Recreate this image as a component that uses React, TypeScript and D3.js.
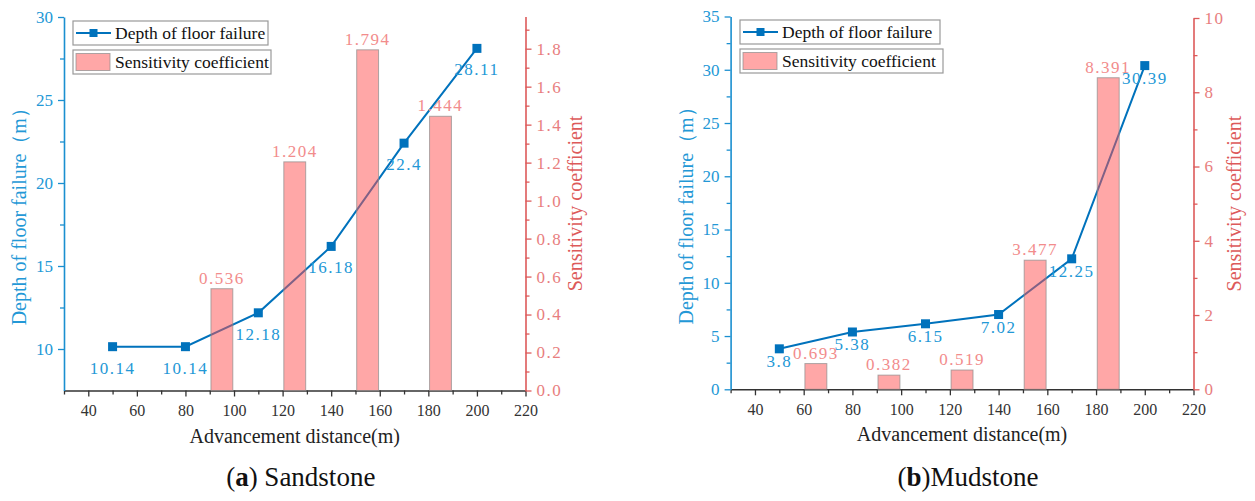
import React, { useEffect, useRef } from "react";
import * as d3 from "d3";

// advancement distance of the line points, same for both panels
const advance = [50, 80, 110, 140, 170, 200];
const xTicks = [40, 60, 80, 100, 120, 140, 160, 180, 200, 220];

// (a) sandstone
const sandDepth = [10.14, 10.14, 12.18, 16.18, 22.4, 28.11];
const sandBarX = [95, 125, 155, 185];
const sandSens = [0.536, 1.204, 1.794, 1.444];
const sandDepthTicks = [10, 15, 20, 25, 30];
const sandSensTicks = [0, 0.2, 0.4, 0.6, 0.8, 1.0, 1.2, 1.4, 1.6, 1.8];

// (b) mudstone
const mudDepth = [3.8, 5.38, 6.15, 7.02, 12.25, 30.39];
const mudBarX = [65, 95, 125, 155, 185];
const mudSens = [0.693, 0.382, 0.519, 3.477, 8.391];
const mudDepthTicks = [0, 5, 10, 15, 20, 25, 30, 35];
const mudSensTicks = [0, 2, 4, 6, 8, 10];

const BLUE_LINE = "#0072bc";
const BLUE_TEXT = "#2398d6";
const BLUE_AXIS = "#1a8fd0";
const RED_AXIS = "#dd5a5a";
const RED_TEXT = "#e87e7e";
const FONT = "'Liberation Serif', 'Times New Roman', serif";

type PanelProps = {
  x0: number;
  x1: number;
  bottom: number;
  depth: number[];
  barX: number[];
  sens: number[];
  depthDomain: [number, number];
  depthTop: number;
  depthTicks: number[];
  depthMinorStep: number;
  sensDomain: [number, number];
  sensTop: number;
  sensTicks: number[];
  sensMinorStep: number;
  sensFmt: (v: number) => string;
  labelDy: number;
  legend: { x: number; y: number; w1: number; w2: number };
  leftTitleX: number;
  rightTitleX: number;
  caption: [string, string];
};

const Panel: React.FC<PanelProps> = (p) => {
  const ref = useRef<SVGGElement | null>(null);

  useEffect(() => {
    const g = d3.select(ref.current!);
    g.selectAll("*").remove();

    const x = d3.scaleLinear().domain([30, 220]).range([p.x0, p.x1]);
    const yL = d3.scaleLinear().domain(p.depthDomain).range([p.bottom, p.depthTop]);
    const yR = d3.scaleLinear().domain(p.sensDomain).range([p.bottom, p.sensTop]);

    // x axis
    const xMinor = d3.range(30, 221, 10).filter((v) => !xTicks.includes(v));
    g.append("g")
      .attr("transform", `translate(0,${p.bottom})`)
      .call(d3.axisBottom(x).tickValues(xMinor).tickSize(4).tickFormat(() => ""))
      .call((a) => a.select(".domain").remove())
      .call((a) => a.selectAll(".tick line").attr("stroke", "#333").attr("stroke-width", 1.3));
    g.append("g")
      .attr("transform", `translate(0,${p.bottom})`)
      .call(d3.axisBottom(x).tickValues(xTicks).tickSize(6).tickSizeOuter(0).tickPadding(8))
      .call((a) => a.select(".domain").attr("stroke", "#333").attr("stroke-width", 1.6))
      .call((a) => a.selectAll(".tick line").attr("stroke", "#333").attr("stroke-width", 1.3))
      .call((a) =>
        a.selectAll(".tick text").attr("fill", "#333").attr("font-size", 16).attr("font-family", FONT)
      );

    // left axis
    const [dl0, dl1] = p.depthDomain;
    const lMinor = d3
      .range(Math.ceil(dl0 / p.depthMinorStep) * p.depthMinorStep, dl1 + 0.001, p.depthMinorStep)
      .filter((v) => !p.depthTicks.some((t) => Math.abs(t - v) < 1e-6) && v > dl0 + 0.01);
    g.append("g")
      .attr("transform", `translate(${p.x0},0)`)
      .call(d3.axisLeft(yL).tickValues(lMinor).tickSize(4).tickFormat(() => ""))
      .call((a) => a.select(".domain").remove())
      .call((a) => a.selectAll(".tick line").attr("stroke", BLUE_AXIS).attr("stroke-width", 1.3));
    g.append("g")
      .attr("transform", `translate(${p.x0},0)`)
      .call(d3.axisLeft(yL).tickValues(p.depthTicks).tickSize(6).tickSizeOuter(0).tickPadding(5))
      .call((a) => a.select(".domain").attr("stroke", BLUE_AXIS).attr("stroke-width", 1.6))
      .call((a) => a.selectAll(".tick line").attr("stroke", BLUE_AXIS).attr("stroke-width", 1.3))
      .call((a) =>
        a.selectAll(".tick text").attr("fill", BLUE_TEXT).attr("font-size", 17).attr("font-family", FONT)
      );

    // right axis
    const [dr0, dr1] = p.sensDomain;
    const rMinor = d3
      .range(dr0 + p.sensMinorStep, dr1 + 0.001, p.sensMinorStep)
      .filter((v) => !p.sensTicks.some((t) => Math.abs(t - v) < 1e-6));
    g.append("g")
      .attr("transform", `translate(${p.x1},0)`)
      .call(d3.axisRight(yR).tickValues(rMinor).tickSize(4).tickFormat(() => ""))
      .call((a) => a.select(".domain").remove())
      .call((a) => a.selectAll(".tick line").attr("stroke", RED_AXIS).attr("stroke-width", 1.3));
    g.append("g")
      .attr("transform", `translate(${p.x1},0)`)
      .call(
        d3
          .axisRight(yR)
          .tickValues(p.sensTicks)
          .tickSize(6)
          .tickSizeOuter(0)
          .tickPadding(5)
          .tickFormat((d) => p.sensFmt(d as number))
      )
      .call((a) => a.select(".domain").attr("stroke", RED_AXIS).attr("stroke-width", 1.6))
      .call((a) => a.selectAll(".tick line").attr("stroke", RED_AXIS).attr("stroke-width", 1.3))
      .call((a) =>
        a
          .selectAll(".tick text")
          .attr("fill", RED_TEXT)
          .attr("font-size", 17)
          .attr("font-family", FONT)
          .attr("letter-spacing", 1.5)
      );

    // depth line
    const pts = advance.map((a, i) => [a, p.depth[i]] as [number, number]);
    g.append("path")
      .datum(pts)
      .attr("fill", "none")
      .attr("stroke", BLUE_LINE)
      .attr("stroke-width", 2)
      .attr(
        "d",
        d3
          .line<[number, number]>()
          .x((d) => x(d[0]))
          .y((d) => yL(d[1]))
      );
    g.selectAll(".mk")
      .data(pts)
      .enter()
      .append("rect")
      .attr("x", (d) => x(d[0]) - 4.5)
      .attr("y", (d) => yL(d[1]) - 4.5)
      .attr("width", 9)
      .attr("height", 9)
      .attr("fill", BLUE_LINE);
    g.selectAll(".dl")
      .data(pts)
      .enter()
      .append("text")
      .attr("x", (d) => x(d[0]))
      .attr("y", (d) => yL(d[1]) + p.labelDy)
      .attr("text-anchor", "middle")
      .attr("font-size", 17)
      .attr("font-family", FONT)
      .attr("letter-spacing", 1.5)
      .attr("fill", BLUE_TEXT)
      .text((d) => String(d[1]));

    // sensitivity bars (translucent, over the line)
    const bw = x(39) - x(30);
    const bars = p.barX.map((b, i) => [b, p.sens[i]] as [number, number]);
    g.selectAll(".bar")
      .data(bars)
      .enter()
      .append("rect")
      .attr("x", (d) => x(d[0]) - bw / 2)
      .attr("y", (d) => yR(d[1]))
      .attr("width", bw)
      .attr("height", (d) => p.bottom - yR(d[1]))
      .attr("fill", "rgba(255,80,80,0.5)")
      .attr("stroke", "rgba(140,140,140,0.7)")
      .attr("stroke-width", 1);
    g.selectAll(".bl")
      .data(bars)
      .enter()
      .append("text")
      .attr("x", (d) => x(d[0]))
      .attr("y", (d) => yR(d[1]) - 5)
      .attr("text-anchor", "middle")
      .attr("font-size", 17)
      .attr("font-family", FONT)
      .attr("letter-spacing", 1.5)
      .attr("fill", "#f28c8c")
      .text((d) => d[1].toFixed(3));

    // axis titles
    const midL = (p.bottom + p.depthTop) / 2 + 8;
    g.append("text")
      .attr("transform", `translate(${p.leftTitleX},${midL}) rotate(-90)`)
      .attr("text-anchor", "middle")
      .attr("font-size", 20)
      .attr("font-family", FONT)
      .attr("fill", BLUE_TEXT)
      .text("Depth of floor failure（m）");
    g.append("text")
      .attr("transform", `translate(${p.rightTitleX},${(p.bottom + p.sensTop) / 2}) rotate(-90)`)
      .attr("text-anchor", "middle")
      .attr("font-size", 20)
      .attr("font-family", FONT)
      .attr("fill", RED_AXIS)
      .text("Sensitivity coefficient");
    g.append("text")
      .attr("x", (p.x0 + p.x1) / 2)
      .attr("y", p.bottom + 52)
      .attr("text-anchor", "middle")
      .attr("font-size", 20)
      .attr("font-family", FONT)
      .attr("fill", "#222")
      .text("Advancement distance(m)");

    // legend
    const lg = g.append("g").attr("transform", `translate(${p.legend.x},${p.legend.y})`);
    lg.append("rect")
      .attr("width", p.legend.w1)
      .attr("height", 24)
      .attr("fill", "#fff")
      .attr("stroke", "#999")
      .attr("stroke-width", 1.2);
    lg.append("line")
      .attr("x1", 3)
      .attr("x2", 38)
      .attr("y1", 12)
      .attr("y2", 12)
      .attr("stroke", BLUE_LINE)
      .attr("stroke-width", 2);
    lg.append("rect").attr("x", 16.5).attr("y", 8).attr("width", 8).attr("height", 8).attr("fill", BLUE_LINE);
    lg.append("text")
      .attr("x", 42)
      .attr("y", 18)
      .attr("font-size", 17.5)
      .attr("font-family", FONT)
      .attr("fill", "#111")
      .text("Depth of floor failure");
    lg.append("rect")
      .attr("y", 29)
      .attr("width", p.legend.w2)
      .attr("height", 24)
      .attr("fill", "#fff")
      .attr("stroke", "#999")
      .attr("stroke-width", 1.2);
    lg.append("rect")
      .attr("x", 3)
      .attr("y", 32.5)
      .attr("width", 34)
      .attr("height", 17)
      .attr("fill", "rgba(255,80,80,0.5)")
      .attr("stroke", "rgba(140,140,140,0.7)");
    lg.append("text")
      .attr("x", 42)
      .attr("y", 47)
      .attr("font-size", 17.5)
      .attr("font-family", FONT)
      .attr("fill", "#111")
      .text("Sensitivity coefficient");

    // caption
    const cap = g
      .append("text")
      .attr("x", (p.x0 + p.x1) / 2 + 6)
      .attr("y", 486)
      .attr("text-anchor", "middle")
      .attr("font-size", 27)
      .attr("font-family", FONT)
      .attr("fill", "#111");
    cap.append("tspan").text("(");
    cap.append("tspan").attr("font-weight", "bold").text(p.caption[0]);
    cap.append("tspan").text(")" + p.caption[1]);
  }, [p]);

  return <g ref={ref} />;
};

export default function App() {
  return (
    <svg
      width={1255}
      height={501}
      style={{ position: "absolute", left: 0, top: 0, background: "#fff" }}
    >
      <Panel
        x0={64}
        x1={525.5}
        bottom={390.5}
        depth={sandDepth}
        barX={sandBarX}
        sens={sandSens}
        depthDomain={[7.5, 30]}
        depthTop={17}
        depthTicks={sandDepthTicks}
        depthMinorStep={2.5}
        sensDomain={[0, 1.97]}
        sensTop={16.4}
        sensTicks={sandSensTicks}
        sensMinorStep={0.1}
        sensFmt={(v) => v.toFixed(1)}
        labelDy={27}
        legend={{ x: 73, y: 21, w1: 195, w2: 198 }}
        leftTitleX={26}
        rightTitleX={582}
        caption={["a", " Sandstone"]}
      />
      <Panel
        x0={730.6}
        x1={1193.5}
        bottom={389.3}
        depth={mudDepth}
        barX={mudBarX}
        sens={mudSens}
        depthDomain={[0, 35]}
        depthTop={16.5}
        depthTicks={mudDepthTicks}
        depthMinorStep={2.5}
        sensDomain={[0, 10]}
        sensTop={18}
        sensTicks={mudSensTicks}
        sensMinorStep={1}
        sensFmt={(v) => String(v)}
        labelDy={18}
        legend={{ x: 740, y: 20, w1: 200, w2: 203 }}
        leftTitleX={693}
        rightTitleX={1241}
        caption={["b", "Mudstone"]}
      />
    </svg>
  );
}
